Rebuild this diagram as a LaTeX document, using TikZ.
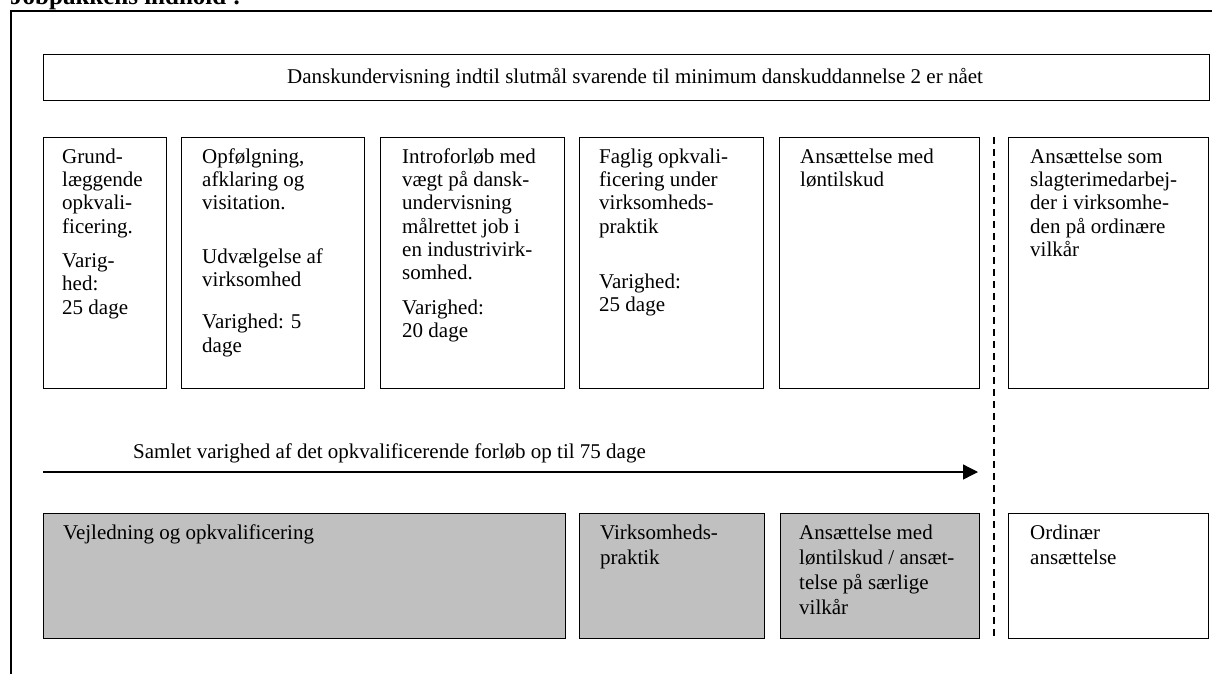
\documentclass[tikz,border=0pt]{standalone}
\usepackage{fontspec}
\setmainfont{Liberation Serif}
\usetikzlibrary{arrows.meta}
\definecolor{boxgray}{HTML}{C0C0C0}
\begin{document}
\begin{tikzpicture}[x=1pt,y=-1pt,
  box/.style={draw, line width=1.3pt, anchor=north west, inner sep=0pt, fill=white},
  gbox/.style={box, fill=boxgray},
  txt/.style={anchor=north west, inner sep=0pt, align=left, font=\fontsize{21}{23.3}\selectfont},
  btxt/.style={anchor=north west, inner sep=0pt, align=left, font=\fontsize{21}{25}\selectfont},
  frame/.style={line width=1.5pt},
  sepline/.style={line width=1.8pt, dash pattern=on 7pt off 5pt},
  flow/.style={line width=1.3pt, -{Triangle[length=15pt,width=15pt]}},
]
\clip (0,0) rectangle (1212,673);
\fill[white] (0,0) rectangle (1212,673);

% title (cut off at top)
\node (title) [anchor=base west, inner sep=0pt, font=\bfseries\fontsize{25}{29}\selectfont] at (10,4) {Jobpakkens indhold :};

% frame
\coordinate (fbl) at (11,680);
\coordinate (ftl) at (11,11);
\coordinate (ftr) at (1220,11);
\draw[frame] (fbl) -- (ftl) -- (ftr);

% top box
\node (top) [box, minimum width=1166pt, minimum height=46pt] at (43,54) {};
\node (toptxt) [anchor=base, inner sep=0pt, font=\fontsize{21}{23.3}\selectfont] at (635,83)
  {Danskundervisning indtil slutmål svarende til minimum danskuddannelse 2 er nået};

% middle row
\node (m1) [box, minimum width=123pt, minimum height=251pt] at (43,137) {};
\node (m2) [box, minimum width=183pt, minimum height=251pt] at (181,137) {};
\node (m3) [box, minimum width=184pt, minimum height=251pt] at (380,137) {};
\node (m4) [box, minimum width=184pt, minimum height=251pt] at (579,137) {};
\node (m5) [box, minimum width=200pt, minimum height=251pt] at (779,137) {};
\node (m6) [box, minimum width=200pt, minimum height=251pt] at (1008,137) {};

\node (m1t) [txt] at ([shift={(19,10)}]m1.north west)
  {\rule{0pt}{16pt}Grund-\\læggende\\opkvali-\\ficering.\\[11pt]Varig-\\hed:\\25 dage};
\node (m2t) [txt] at ([shift={(21,10)}]m2.north west)
  {\rule{0pt}{16pt}Opfølgning,\\afklaring og\\visitation.\\[30pt]Udvælgelse af\\virksomhed\\[19pt]Varighed: 5\\dage};
\node (m3t) [txt] at ([shift={(22,10)}]m3.north west)
  {\rule{0pt}{16pt}Introforløb med\\vægt på dansk-\\undervisning\\målrettet job i\\en industrivirk-\\somhed.\\[11pt]Varighed:\\20 dage};
\node (m4t) [txt] at ([shift={(20,10)}]m4.north west)
  {\rule{0pt}{16pt}Faglig opkvali-\\ficering under\\virksomheds-\\praktik\\[32pt]Varighed:\\25 dage};
\node (m5t) [txt] at ([shift={(21,10)}]m5.north west)
  {\rule{0pt}{16pt}Ansættelse med\\løntilskud};
\node (m6t) [txt] at ([shift={(22,10)}]m6.north west)
  {\rule{0pt}{16pt}Ansættelse som\\slagterimedarbej-\\der i virksomhe-\\den på ordinære\\vilkår};

% arrow with label
\coordinate (as) at (43,472);
\coordinate (ae) at (978,472);
\draw[flow] (as) -- (ae);
\node (atxt) [anchor=base west, inner sep=0pt, font=\fontsize{21}{23.3}\selectfont] at (133,458)
  {Samlet varighed af det opkvalificerende forløb op til 75 dage};

% dashed separator
\coordinate (ds) at (994,137);
\coordinate (de) at (994,640);
\draw[sepline] (ds) -- (de);

% bottom row
\node (b1) [gbox, minimum width=522pt, minimum height=125pt] at (43,513) {};
\node (b2) [gbox, minimum width=185pt, minimum height=125pt] at (579,513) {};
\node (b3) [gbox, minimum width=199pt, minimum height=125pt] at (780,513) {};
\node (b4) [box, minimum width=200pt, minimum height=125pt] at (1008,513) {};

\node (b1t) [btxt] at ([shift={(20,10)}]b1.north west) {\rule{0pt}{16pt}Vejledning og opkvalificering};
\node (b2t) [btxt] at ([shift={(21,10)}]b2.north west) {\rule{0pt}{16pt}Virksomheds-\\praktik};
\node (b3t) [btxt] at ([shift={(19,10)}]b3.north west) {\rule{0pt}{16pt}Ansættelse med\\løntilskud / ansæt-\\telse på særlige\\vilkår};
\node (b4t) [btxt] at ([shift={(22,10)}]b4.north west) {\rule{0pt}{16pt}Ordinær\\ansættelse};
\end{tikzpicture}
\end{document}
